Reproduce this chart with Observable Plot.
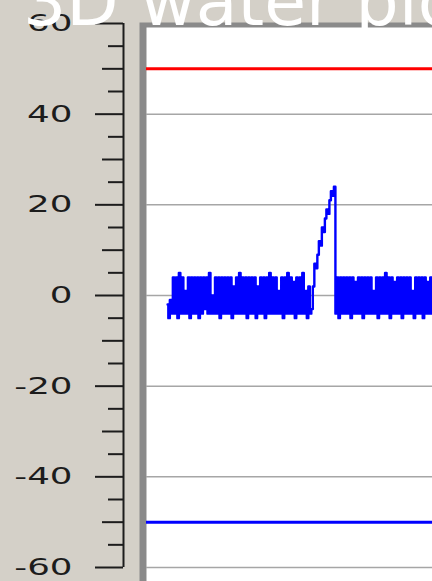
<!DOCTYPE html>
<html><head><meta charset="utf-8">
<script src="https://cdn.jsdelivr.net/npm/d3@7"></script>
<script src="https://cdn.jsdelivr.net/npm/@observablehq/plot@0.6"></script>
<style>
html,body{margin:0;padding:0;background:#d4d0c8;}
#wrap{position:relative;width:432px;height:581px;overflow:hidden;background:#d4d0c8;}
#wrap svg{position:absolute;left:0;top:0;}
#title{position:absolute;left:23px;top:-32.5px;font-family:"DejaVu Sans";font-size:68px;line-height:68px;color:#fff;white-space:nowrap;z-index:2;}
</style></head><body>
<div id="wrap"></div>
<script>
const titleText = "3D water plot";
const majorTicks = [-60, -40, -20, 0, 20, 40, 60];
const mediumTicks = [-50, -30, -10, 10, 30, 50];
const minorTicks = [-55, -45, -35, -25, -15, -5, 5, 15, 25, 35, 45, 55];
const gridLevels = [40, 20, 0, -20, -40, -60];
const upperLimit = [50];
const lowerLimit = [-50];
const sampleDomain = [0, 190];
const signalStart = 14;
const noiseBefore = [
  -2, -5, -1, -4, 4, -4, 4, -5, 5, -4,
  4, -4, 1, -4, 4, -5, 4, -4, 4, -4,
  4, -5, 4, -4, 4, -3, 4, -4, 5, -4,
  0, -4, 4, -4, 4, -5, 4, -4, 4, -4,
  4, -4, 4, -5, 2, -4, 4, -4, 5, -4,
  4, -4, 4, -5, 4, -4, 4, -4, 4, -5,
  2, -4, 4, -4, 4, -5, 4, -4, 5, -4,
  4, -4, 4, -4, 1, -4, 4, -5, 4, -4,
  5, -4, 4, -4, 3, -5, 4, -4, 4, -4,
  5, -4, 1, -5, 2, -4, -3
];
const ramp = [2, 7, 6, 9, 12, 11, 15, 14, 17, 19, 18, 21, 23, 22, 24];
const noiseAfter = [
  -4, 4, -5, 4, -4, 4, -4, 4, -4, 4,
  -5, 4, -4, 3, -4, 4, -4, 4, -5, 4,
  -4, 4, -4, 4, -4, 1, -4, 4, -5, 4,
  -4, 4, -4, 5, -4, 4, -5, 4, -4, 3,
  -4, 4, -4, 4, -5, 4, -4, 4, -4, 4,
  -4, 1, -5, 4, -4, 4, -4, 4, -5, 4,
  -4, 3, -4, 4, -4
];

const values = [...noiseBefore, ...ramp, ...noiseAfter];
const signal = values.map((v, i) => ({s: signalStart + i, v}));

const axisColor = "#1c1c1c";
const chart = Plot.plot({
  width: 432,
  height: 581,
  marginLeft: 146,
  marginRight: 0,
  marginTop: 23,
  marginBottom: 14,
  style: {background: "#d4d0c8", overflow: "visible"},
  x: {domain: sampleDomain, axis: null},
  y: {domain: [-60, 60], label: null},
  marks: [
    Plot.frame({fill: "#8a8a8a", stroke: null, insetLeft: -7, insetTop: -1, insetBottom: -14}),
    Plot.frame({fill: "#ffffff", stroke: null, insetLeft: 0, insetTop: 4, insetBottom: -14}),
    Plot.ruleY(gridLevels, {stroke: "#a6a6a6", strokeWidth: 1.5}),
    Plot.ruleY(upperLimit, {stroke: "#ff0000", strokeWidth: 3}),
    Plot.ruleY(lowerLimit, {stroke: "#0000ff", strokeWidth: 3}),
    Plot.line(signal, {x: "s", y: "v", stroke: "#0000ff", strokeWidth: 2.4, curve: "step"}),
    Plot.ruleX([sampleDomain[0]], {y1: -60, y2: 60, dx: -23, stroke: axisColor, strokeWidth: 2}),
    Plot.axisY(minorTicks, {tickSize: 15, dx: -23, stroke: axisColor, strokeWidth: 2, fill: "none", label: null}),
    Plot.axisY(mediumTicks, {tickSize: 21, dx: -23, stroke: axisColor, strokeWidth: 2, fill: "none", label: null}),
    Plot.axisY(majorTicks, {tickSize: 28, tickPadding: 23, dx: -23, stroke: axisColor, strokeWidth: 2, fill: axisColor, fontSize: 23, fontFamily: "DejaVu Sans", tickFormat: d => String(d), label: null})
  ]
});

const wrap = document.getElementById("wrap");
wrap.appendChild(chart);
const t = document.createElement("div");
t.id = "title";
t.textContent = titleText;
wrap.appendChild(t);

// stretch tick labels horizontally like the reference screenshot
d3.select(chart).selectAll('g[aria-label="y-axis tick label"] text').each(function() {
  const w = this.getComputedTextLength();
  if (w > 0) {
    this.setAttribute("textLength", (w * 1.55).toFixed(1));
    this.setAttribute("lengthAdjust", "spacingAndGlyphs");
  }
});
</script>
</body></html>
